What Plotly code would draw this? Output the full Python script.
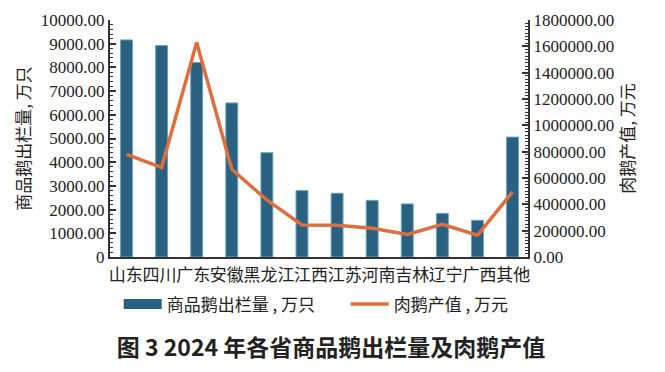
import plotly.graph_objects as go

categories = ["山东", "四川", "广东", "安徽", "黑龙江", "江西", "江苏", "河南", "吉林", "辽宁", "广西", "其他"]
stock_out = [9160, 8920, 8210, 6500, 4400, 2800, 2690, 2390, 2240, 1840, 1550, 5060]
output_value = [780000, 681000, 1630000, 666000, 433000, 243000, 241000, 218000, 172000, 248000, 165000, 494000]

left_tickvals = [0, 1000, 2000, 3000, 4000, 5000, 6000, 7000, 8000, 9000, 10000]
left_ticktext = ["0", "1000.00", "2000.00", "3000.00", "4000.00", "5000.00", "6000.00",
                 "7000.00", "8000.00", "9000.00", "10000.00"]
right_tickvals = [0, 200000, 400000, 600000, 800000, 1000000, 1200000, 1400000, 1600000, 1800000]
right_ticktext = ["0.00", "200000.00", "400000.00", "600000.00", "800000.00", "1000000.00",
                  "1200000.00", "1400000.00", "1600000.00", "1800000.00"]

bar_name = "商品鹅出栏量 , 万只"
line_name = "肉鹅产值 , 万元"
left_title = "商品鹅出栏量, 万只"
right_title = "肉鹅产值, 万元"
chart_title = "图 3 2024 年各省商品鹅出栏量及肉鹅产值"

BAR = "#2a6080"
BAR_EDGE = "#6aa3c2"
LINE = "#e06d3c"
AX = "#333333"
TXT = "#222222"
SERIF = "Liberation Serif, Times New Roman, serif"
CJK = "Noto Sans CJK SC, sans-serif"

# the page body adds an 8px margin, so the figure is drawn 8px smaller
W, H = 657, 364

# label layout: labels placed contiguously according to their character counts
idx = list(range(len(categories)))
n_chars = sum(len(c) for c in categories)
unit = len(categories) / n_chars
tick_pos = []
cum = 0
for c in categories:
    tick_pos.append(-0.5 + (cum + len(c) / 2) * unit)
    cum += len(c)

fig = go.Figure()
fig.add_trace(go.Bar(
    x=idx, y=stock_out, name=bar_name, width=0.34,
    marker=dict(color=BAR, line=dict(color=BAR_EDGE, width=1)),
    showlegend=False, yaxis="y",
))
# legend entry for the bars (wide swatch like the reference)
fig.add_trace(go.Scatter(
    x=[None], y=[None], mode="lines", name=bar_name,
    line=dict(color=BAR, width=10), yaxis="y",
))
fig.add_trace(go.Scatter(
    x=idx, y=output_value, name=line_name, mode="lines",
    line=dict(color=LINE, width=3.5), yaxis="y2",
))

fig.update_layout(
    width=W, height=H,
    margin=dict(l=102, r=137, t=12, b=115, autoexpand=False),
    paper_bgcolor="white", plot_bgcolor="white",
    font=dict(family=SERIF, size=17, color=TXT),
    xaxis=dict(
        range=[-0.47, 11.44], tickvals=tick_pos, ticktext=categories,
        tickfont=dict(family=CJK, size=17, color=TXT), tickangle=0,
        showline=True, linecolor=AX, linewidth=2, ticks="", showgrid=False,
        zeroline=False, ticklabelstandoff=2,
    ),
    yaxis=dict(
        range=[0, 10000], tickvals=left_tickvals, ticktext=left_ticktext,
        tickfont=dict(family=SERIF, size=17, color=TXT),
        showline=True, linecolor=AX, linewidth=2, ticks="inside", ticklen=6,
        tickcolor=AX, tickwidth=1.5, showgrid=False, zeroline=False,
        minor=dict(ticks="inside", ticklen=3, dtick=200, tickcolor=AX, tickwidth=1),
        title=dict(text=left_title, font=dict(family=CJK, size=17, color=TXT), standoff=6),
    ),
    yaxis2=dict(
        range=[0, 1800000], tickvals=right_tickvals, ticktext=right_ticktext,
        overlaying="y", side="right",
        tickfont=dict(family=SERIF, size=17, color=TXT),
        showline=True, linecolor=AX, linewidth=2, ticks="inside", ticklen=6,
        tickcolor=AX, tickwidth=1.5, showgrid=False, zeroline=False,
        minor=dict(ticks="inside", ticklen=3, dtick=25000, tickcolor=AX, tickwidth=1),
        title=dict(text=right_title, font=dict(family=CJK, size=17, color=TXT), standoff=6),
    ),
    legend=dict(
        orientation="h", x=1.107, xanchor="right", xref="paper",
        y=-0.2, yanchor="middle", yref="paper",
        font=dict(family=CJK, size=17, color=TXT),
        itemwidth=38, entrywidth=174, entrywidthmode="pixels",
        bgcolor="rgba(0,0,0,0)",
    ),
    title=dict(
        text="<b>" + chart_title + "</b>", x=323 / W, xref="container", xanchor="center",
        y=1 - 340 / H, yref="container", yanchor="middle",
        font=dict(family=CJK, size=23, color=TXT),
    ),
)

fig.write_html("out.html")
